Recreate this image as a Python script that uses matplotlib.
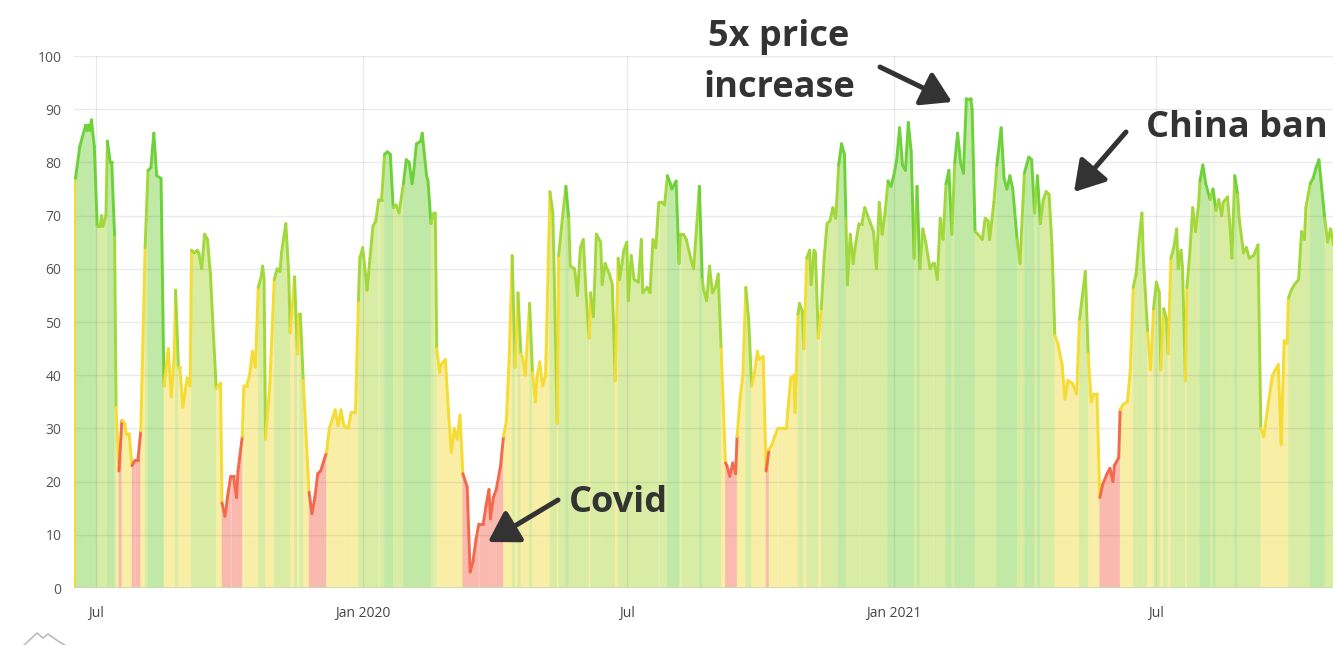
import matplotlib
matplotlib.use("Agg")
import matplotlib.pyplot as plt
import matplotlib.dates as mdates
from matplotlib.collections import PolyCollection, LineCollection
from matplotlib.lines import Line2D
import numpy as np
import datetime as dt

# ---------------- data ----------------
base_date = "2019-07-01"
day_offset = [
    -14, -11, -7, -6, -5, -4, -3, -1, 1, 3, 4, 5, 7, 8, 10, 11, 13, 14, 16, 18, 20, 21, 23, 25, 27, 29, 31,
    34, 36, 38, 40, 42, 45, 47, 50, 52, 54, 55, 57, 58, 60, 63, 65, 66, 68, 70, 71, 73, 75, 77, 79,
    83, 86, 87, 89, 91, 93, 95, 97, 98, 101, 102, 104, 106, 108, 110, 112, 114, 115, 116, 117, 120,
    123, 125, 127, 128, 131, 133, 134, 137, 139, 140, 141, 143, 147, 149, 151, 153, 155, 159, 161,
    165, 167, 169, 171, 174, 176, 179, 181, 182, 184, 187, 189, 191, 193, 195, 197, 199, 201, 203,
    205, 207, 209, 212, 214, 216, 218, 219, 221, 224, 225, 228, 229, 231, 233, 234, 235, 237, 238,
    241, 243, 245, 247, 249, 251, 253, 256, 258, 260, 262, 264, 267, 269, 271, 272, 274, 276, 279,
    281, 283, 285, 287, 289, 291, 293, 294, 296, 299, 301, 303, 304, 306, 308, 310, 313, 315, 316,
    318, 319, 322, 324, 326, 327, 330, 332, 334, 336, 338, 340, 341, 343, 345, 348, 349, 351, 354,
    356, 358, 360, 361, 364, 366, 367, 369, 371, 374, 376, 377, 380, 382, 384, 386, 388, 390, 392,
    394, 396, 397, 399, 400, 402, 403, 405, 407, 410, 412, 414, 416, 418, 419, 421, 423, 425, 427,
    429, 431, 434, 435, 437, 439, 441, 442, 444, 446, 448, 450, 452, 454, 456, 457, 460, 462, 464,
    466, 468, 470, 473, 476, 477, 479, 481, 482, 484, 485, 487, 488, 490, 492, 493, 495, 496, 498,
    500, 502, 504, 506, 508, 510, 512, 514, 516, 517, 518, 520, 522, 523, 526, 528, 530, 532, 534,
    536, 538, 540, 542, 544, 546, 548, 550, 552, 554, 556, 558, 560, 562, 564, 566, 568, 570, 572,
    575, 577, 578, 580, 582, 584, 586, 588, 590, 592, 594, 596, 598, 600, 603, 604, 606, 608, 611,
    613, 615, 616, 619, 621, 624, 626, 628, 630, 632, 635, 637, 638, 640, 643, 645, 647, 649, 651,
    653, 655, 657, 659, 661, 663, 666, 668, 670, 673, 676, 678, 682, 684, 686, 688, 690, 692, 694,
    697, 699, 701, 702, 705, 706, 708, 711, 713, 715, 717, 719, 721, 722, 725, 727, 729, 731, 733,
    734, 736, 738, 739, 741, 743, 745, 746, 748, 749, 751, 752, 754, 756, 758, 760, 761, 763, 765,
    768, 770, 772, 774, 776, 777, 780, 782, 783, 785, 787, 788, 791, 793, 795, 798, 801, 803, 805,
    808, 811, 813, 815, 817, 819, 821, 822, 824, 826, 829, 831, 833, 834, 837, 839, 841, 843, 845,
    847, 849, 851, 853,
]
fear_greed = [
    77, 83, 87, 86, 87, 86, 88, 83, 68, 68, 70, 68, 70, 84, 80, 80, 66, 34, 22, 31.5, 31, 29, 29, 23, 24, 24, 29.5,
    64, 78.5, 79, 85.5, 77.5, 77, 38, 45, 36, 43.5, 56, 41.5, 41.5, 34, 39.5, 38, 63.5, 63, 63.5, 63, 60, 66.5, 65.5, 59,
    37.5, 38.5, 16, 13.5, 17.5, 21, 21, 17, 22, 28.5, 38, 38, 40, 44.5, 41.5, 56.5, 58.5, 60.5, 58, 28, 38.5,
    58, 60, 59.5, 63, 68.5, 59, 48, 58.5, 44, 51.5, 51.5, 39, 18, 14, 17, 21.5, 22, 25.5, 30,
    33.5, 30.5, 33.5, 30.5, 30, 33, 33, 54, 62, 64, 56, 62, 68, 69, 73, 73, 81.5, 82, 81.5,
    71.5, 72, 70.5, 76, 80.5, 80, 76, 78, 83.5, 84, 85.5, 77.5, 76.5, 68.5, 70.5, 70.5, 45, 40.5, 42,
    43, 33.5, 25.5, 30, 28, 32.5, 21.5, 19, 3, 5, 9, 12, 12, 15.5, 18.5, 13, 17, 18.5, 23,
    28.5, 31.5, 44, 62.5, 41.5, 55.5, 44, 43.5, 40, 53.5, 40.5, 35, 39.5, 42.5, 38, 40, 74.5, 70.5, 58.5,
    31, 62.5, 70.5, 75.5, 69.5, 60.5, 60, 55, 64, 65.5, 55, 47, 55.5, 51, 66.5, 65, 57, 61, 59,
    57, 39, 62, 58, 63.5, 65, 54, 62.5, 58, 57.5, 65.5, 55.5, 56.5, 55.5, 65.5, 64, 72.5, 72.5, 72,
    77.5, 76, 75, 76, 76.5, 61, 66.5, 66.5, 65.5, 62, 60, 67.5, 75.5, 58, 56, 54, 60.5, 55.5, 56.5,
    59, 45, 23.5, 23, 21, 23.5, 21.5, 28.5, 35.5, 40, 56.5, 50.5, 38, 40.5, 44.5, 43, 43.5, 22, 26,
    27, 28.5, 30, 30, 30, 33.5, 39.5, 40, 33, 51.5, 53.5, 52, 45, 62, 63.5, 57, 63.5, 63, 47,
    52.5, 62, 68.5, 69, 71.5, 69.5, 79.5, 83.5, 81.5, 69.5, 57, 66.5, 61, 63.5, 68.5, 68.5, 71.5, 70, 68.5,
    67, 60, 72.5, 66.5, 70.5, 76.5, 75.5, 77.5, 80.5, 86.5, 79.5, 78.5, 87.5, 82, 62, 75.5, 60, 67.5, 65,
    60, 61, 61, 58, 69.5, 65.5, 76, 78.5, 66.5, 80, 85.5, 80, 78, 92, 92, 90, 67, 66.5, 65.5,
    69.5, 69, 65.5, 72.5, 79.5, 86.5, 77, 75, 77.5, 75, 65.5, 61, 67, 78, 81, 80.5, 70.5, 77.5, 68.5,
    73, 74.5, 74, 64.5, 47.5, 46, 42, 35.5, 39, 38.5, 36.5, 50.5, 59.5, 44, 35, 36.5, 36.5, 17, 19.5,
    21.5, 22.5, 20, 23, 24.5, 33.5, 34.5, 35, 41, 56.5, 59, 65.5, 70.5, 62, 48, 41, 52.5, 57.5, 55.5,
    41, 52.5, 50.5, 44, 62, 64, 67.5, 60, 63.5, 60, 39, 56.5, 63, 71.5, 67, 72, 76.5, 79.5, 76,
    73, 75, 71, 73, 70, 72.5, 73.5, 67, 62, 77.5, 74, 69.5, 63, 64, 62, 62.5, 64.5, 30, 28.5,
    34.5, 40, 41, 42, 27, 46.5, 46, 54.5, 56, 57, 58, 67, 65.5, 71.5, 76, 77, 79, 80.5, 75,
    69.5, 65, 67.5, 64.5,
]
tick_dates = ["2019-07-01", "2020-01-01", "2020-07-01", "2021-01-01", "2021-07-01"]
tick_labels = ["Jul", "Jan 2020", "Jul", "Jan 2021", "Jul"]
y_ticks = list(range(0, 101, 10))
zone_limits = [25, 50, 75]          # extreme fear | fear | greed | extreme greed
fill_colors = ["#f9b9ae", "#f9eea5", "#d8eda3", "#c0e9a6"]
line_colors = ["#f4694b", "#f5dc33", "#a2d83c", "#6dd23a"]
x_range_days = (-15.0, 852.7)

# ---------------- figure ----------------
plt.rcParams["font.family"] = ["Open Sans", "DejaVu Sans"]
W, H = 1333, 645
fig = plt.figure(figsize=(W / 100, H / 100), dpi=100)
ax = fig.add_axes([74 / W, 57 / H, (W - 74) / W, 532 / H])

base_num = mdates.date2num(dt.datetime.strptime(base_date, "%Y-%m-%d"))
x = base_num + np.array(day_offset, dtype=float)
y = np.array(fear_greed, dtype=float)
zones = np.digitize(y, zone_limits)

polys, pcols, segs, lcols = [], [], [], []
for i in range(len(x) - 1):
    z = zones[i]
    polys.append([(x[i], 0), (x[i], y[i]), (x[i + 1], y[i + 1]), (x[i + 1], 0)])
    pcols.append(fill_colors[z])
    segs.append([(x[i], y[i]), (x[i + 1], y[i + 1])])
    lcols.append(line_colors[z])

ax.add_collection(PolyCollection(polys, facecolors=pcols, edgecolors=pcols,
                                 linewidths=0.4, zorder=1))
ax.add_collection(LineCollection(segs, colors=lcols, linewidths=2.1,
                                 capstyle="round", joinstyle="round", zorder=4))
# left edge of the filled area
ax.plot([x[0], x[0]], [0, y[0]], color=line_colors[1], lw=1.5, zorder=3)

ax.set_xlim(base_num + x_range_days[0], base_num + x_range_days[1])
ax.set_ylim(0, 100)

tick_nums = [mdates.date2num(dt.datetime.strptime(d, "%Y-%m-%d")) for d in tick_dates]
ax.set_xticks(tick_nums)
ax.set_xticklabels(tick_labels)
ax.set_yticks(y_ticks)
ax.set_yticklabels([str(v) for v in y_ticks])

grid_col = (0.45, 0.45, 0.45, 0.15)
for v in y_ticks[1:]:
    ax.axhline(v, color=grid_col, lw=1.0, zorder=2)
for t in tick_nums:
    ax.axvline(t, color=grid_col, lw=1.0, zorder=2)

for s in ax.spines.values():
    s.set_visible(False)
ax.axhline(0, color="#c9d8b4", lw=1.2, zorder=3)

ax.tick_params(axis="both", length=0)
ax.tick_params(axis="y", pad=9, labelsize=10, labelcolor="#555555")
ax.tick_params(axis="x", pad=13, labelsize=10, labelcolor="#444444")

# ---------------- annotations ----------------
def fx(px):
    return px / W

def fy(py):
    return 1 - py / H

txt_kw = dict(fontsize=26, fontweight="bold", color="#333333", va="baseline")
fig.text(fx(779), fy(46), "5x price", ha="center", **txt_kw)
fig.text(fx(779), fy(97), "increase", ha="center", **txt_kw)
fig.text(fx(1146), fy(137), "China ban", ha="left", **txt_kw)
fig.text(fx(569), fy(512), "Covid", ha="left", **txt_kw)

arrow_kw = dict(arrowstyle="-|>,head_length=0.9,head_width=0.55", color="#333333",
                lw=3.6, mutation_scale=20, shrinkA=0, shrinkB=0)
for tail, head in [((880, 67), (952, 102)), ((1126, 132), (1074, 192)), ((558, 500), (488, 542))]:
    ax.annotate("", xy=(fx(head[0]), fy(head[1])), xytext=(fx(tail[0]), fy(tail[1])),
                xycoords="figure fraction", textcoords="figure fraction",
                arrowprops=arrow_kw, annotation_clip=False)

# faint logo outline in the corner
fig.add_artist(Line2D([fx(23), fx(37), fx(43), fx(48), fx(58), fx(68)],
                      [fy(646), fy(633), fy(638), fy(634), fy(641), fy(647)],
                      color="#bbbbbb", lw=1.2, transform=fig.transFigure))

fig.savefig("out.png", dpi=100)
